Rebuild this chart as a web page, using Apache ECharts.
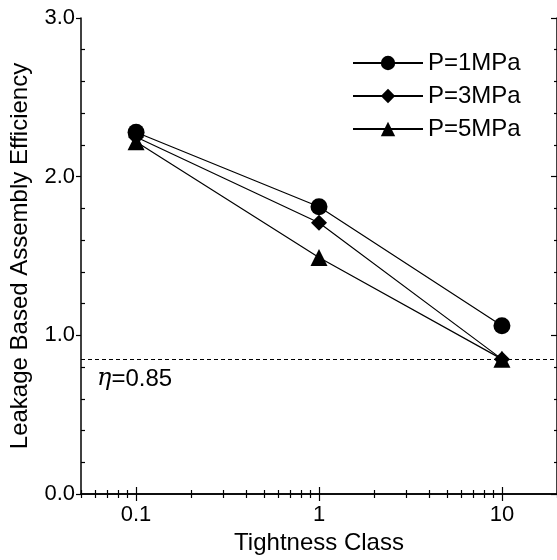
<!DOCTYPE html>
<html>
<head>
<meta charset="utf-8">
<script src="https://cdn.jsdelivr.net/npm/echarts@6/dist/echarts.min.js"></script>
<style>
  html, body { margin: 0; padding: 0; background: #fff; }
  #chart { width: 557px; height: 560px; }
</style>
</head>
<body>
<div id="chart"></div>
<script>
const tightness = [0.1, 1, 10];
const p1 = [2.28, 1.81, 1.06];
const p3 = [2.25, 1.71, 0.85];
const p5 = [2.22, 1.49, 0.85];
const seriesNames = ['P=1MPa', 'P=3MPa', 'P=5MPa'];
const etaLimit = 0.85;

const xMajor = [0.1, 1, 10];
const xMinor = [0.05, 0.06, 0.07, 0.08, 0.09, 0.2, 0.3, 0.4, 0.5, 0.6, 0.7, 0.8, 0.9,
  2, 3, 4, 5, 6, 7, 8, 9, 20];
const yMajor = [0, 1, 2, 3];
const yMinor = [0.2, 0.4, 0.6, 0.8, 1.2, 1.4, 1.6, 1.8, 2.2, 2.4, 2.6, 2.8];

const chart = echarts.init(document.getElementById('chart'));
const font = '"Liberation Sans", Arial, sans-serif';
const black = '#000';

function pairs(ys) {
  return tightness.map((x, i) => [x, ys[i]]);
}

function xAx(pos, ticks, len, main) {
  return {
    type: 'log', position: pos, min: 0.05, max: 20, logBase: 10,
    axisLine: { show: main, lineStyle: { color: black, width: 1.5 } },
    axisTick: { show: true, inside: true, length: len, customValues: ticks,
      lineStyle: { color: black, width: 1.2 } },
    axisLabel: main && pos === 'bottom'
      ? { show: true, customValues: xMajor, color: black, fontSize: 22, fontFamily: font, margin: 10,
          formatter: v => String(v) }
      : { show: false },
    splitLine: { show: false },
    name: main && pos === 'bottom' ? 'Tightness Class' : '',
    nameLocation: 'middle', nameGap: 37,
    nameTextStyle: { color: black, fontSize: 24, fontFamily: font }
  };
}

function yAx(pos, ticks, len, inside, main) {
  return {
    type: 'value', position: pos, min: 0, max: 3,
    axisLine: { show: main, lineStyle: { color: black, width: 1.5 } },
    axisTick: { show: true, inside: inside, length: len, customValues: ticks,
      lineStyle: { color: black, width: 1.2 } },
    axisLabel: main && pos === 'left'
      ? { show: true, customValues: yMajor, color: black, fontSize: 22, fontFamily: font, margin: 6,
          formatter: v => v.toFixed(1) }
      : { show: false },
    splitLine: { show: false },
    name: main && pos === 'left' ? 'Leakage Based Assembly Efficiency' : '',
    nameLocation: 'middle', nameGap: 49,
    nameTextStyle: { color: black, fontSize: 24, fontFamily: font }
  };
}

const symbols = ['circle', 'diamond', 'triangle'];
const sizes = [17, 16, 17];
const values = [p1, p3, p5];

chart.setOption({
  animation: false,
  textStyle: { fontFamily: font },
  grid: { left: 79, top: 18, right: -1, bottom: 62, containLabel: false },
  legend: {
    left: 347, top: 46, orient: 'vertical', itemWidth: 70, itemHeight: 18, itemGap: 9,
    textStyle: { color: black, fontSize: 24, fontFamily: font },
    data: seriesNames
  },
  xAxis: [
    xAx('bottom', xMajor, 7, true),
    xAx('bottom', xMinor, 4, false),
    xAx('top', xMajor, 7, true),
    xAx('top', xMinor, 4, false)
  ],
  yAxis: [
    yAx('left', yMajor, 5, false, true),
    yAx('left', yMinor, 4, true, false),
    yAx('right', yMajor, 6, true, true),
    yAx('right', yMinor, 3, true, false)
  ],
  series: values.map((ys, i) => ({
    name: seriesNames[i],
    type: 'line',
    xAxisIndex: 0, yAxisIndex: 0,
    data: pairs(ys),
    symbol: symbols[i],
    symbolSize: sizes[i],
    lineStyle: { color: black, width: 1.2 },
    itemStyle: { color: black },
    z: 3 - i,
    markLine: i === 0 ? {
      silent: true, symbol: 'none',
      lineStyle: { color: black, type: [4, 3], width: 1.2 },
      label: {
        position: 'insideStartBottom', distance: [16, 8],
        formatter: '{i|η}=' + etaLimit, color: black, fontSize: 24, fontFamily: font,
        rich: { i: { fontStyle: 'italic', fontFamily: '"DejaVu Serif", serif', fontSize: 24, color: black } }
      },
      data: [{ yAxis: etaLimit }]
    } : undefined
  }))
});
</script>
</body>
</html>
